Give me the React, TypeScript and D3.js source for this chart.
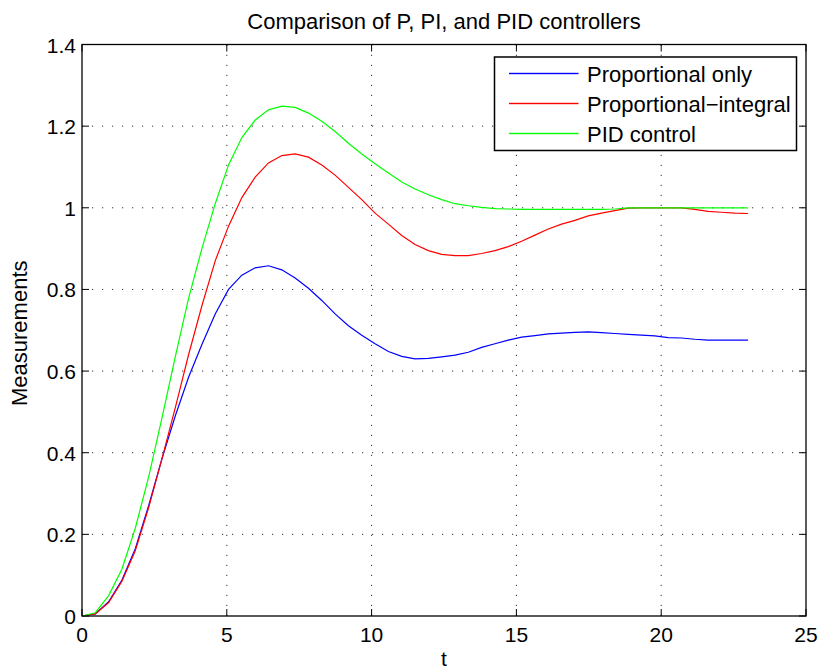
import React from "react";
import * as d3 from "d3";

const tValues = [0, 0.46, 0.92, 1.38, 1.84, 2.3, 2.76, 3.22, 3.68, 4.14, 4.6, 5.06, 5.52, 5.98, 6.44, 6.9, 7.36, 7.82, 8.28, 8.74, 9.2, 9.66, 10.12, 10.58, 11.04, 11.5, 11.96, 12.42, 12.88, 13.34, 13.8, 14.26, 14.72, 15.18, 15.64, 16.1, 16.56, 17.02, 17.48, 17.94, 18.4, 18.86, 19.32, 19.78, 20.24, 20.7, 21.16, 21.62, 22.08, 22.54, 23];

const proportionalOnly = [0, 0.005, 0.035, 0.088, 0.165, 0.27, 0.385, 0.49, 0.585, 0.665, 0.74, 0.8, 0.835, 0.853, 0.858, 0.848, 0.828, 0.803, 0.773, 0.74, 0.711, 0.688, 0.667, 0.648, 0.636, 0.63, 0.631, 0.635, 0.639, 0.646, 0.658, 0.667, 0.676, 0.683, 0.687, 0.691, 0.693, 0.695, 0.696, 0.694, 0.692, 0.69, 0.688, 0.686, 0.682, 0.681, 0.678, 0.676, 0.676, 0.676, 0.676];

const proportionalIntegral = [0, 0.005, 0.033, 0.085, 0.16, 0.265, 0.385, 0.51, 0.64, 0.76, 0.87, 0.955, 1.025, 1.075, 1.11, 1.128, 1.132, 1.124, 1.105, 1.08, 1.05, 1.02, 0.987, 0.96, 0.932, 0.91, 0.895, 0.886, 0.883, 0.883, 0.888, 0.895, 0.905, 0.918, 0.933, 0.948, 0.96, 0.969, 0.98, 0.987, 0.993, 0.999, 1.0, 1.0, 1.0, 1.0, 0.996, 0.991, 0.989, 0.987, 0.986];

const pidControl = [0, 0.008, 0.05, 0.115, 0.215, 0.34, 0.485, 0.635, 0.778, 0.9, 1.01, 1.105, 1.172, 1.215, 1.24, 1.249, 1.246, 1.232, 1.212, 1.187, 1.158, 1.132, 1.108, 1.085, 1.063, 1.046, 1.032, 1.02, 1.01, 1.005, 1.001, 0.998, 0.997, 0.996, 0.996, 0.996, 0.996, 0.996, 0.996, 0.996, 0.997, 1.0, 1.0, 1.0, 1.0, 1.0, 1.0, 1.0, 1.0, 1.0, 1.0];

const seriesNames = ["Proportional only", "Proportional\u2212integral", "PID control"];
const seriesColors = ["#0000ff", "#ff0000", "#00ff00"];
const xTicks = [0, 5, 10, 15, 20, 25];
const yTicks = [0, 0.2, 0.4, 0.6, 0.8, 1, 1.2, 1.4];
const titleText = "Comparison of P, PI, and PID controllers";
const xLabel = "t";
const yLabel = "Measurements";

export default function App() {
  const W = 820, H = 670;
  const left = 82, right = 806, top = 44.5, bottom = 616;
  const x = d3.scaleLinear().domain([0, 25]).range([left, right]);
  const y = d3.scaleLinear().domain([0, 1.4]).range([bottom, top]);
  const all = [proportionalOnly, proportionalIntegral, pidControl];
  const line = d3.line<number>().x((_, i) => x(tValues[i])).y((d) => y(d));
  const font = "'Liberation Sans', Arial, Helvetica, sans-serif";
  const tickLen = 7;

  return (
    <svg width={W} height={H} style={{ position: "absolute", left: 0, top: 0, background: "#fff" }} fontFamily={font}>
      <rect x={0} y={0} width={W} height={H} fill="#fff" />
      {xTicks.filter((v) => v > 0 && v < 25).map((v) => (
        <line key={"gx" + v} x1={x(v)} x2={x(v)} y1={bottom} y2={top} stroke="#333" strokeWidth={1} strokeDasharray="1.2,8.8" />
      ))}
      {yTicks.filter((v) => v > 0 && v < 1.4).map((v) => (
        <line key={"gy" + v} x1={left} x2={right} y1={y(v)} y2={y(v)} stroke="#333" strokeWidth={1} strokeDasharray="1.2,8.8" />
      ))}
      {xTicks.map((v) => (
        <g key={"tx" + v}>
          <line x1={x(v)} x2={x(v)} y1={bottom} y2={bottom - tickLen} stroke="#000" strokeWidth={1} />
          <line x1={x(v)} x2={x(v)} y1={top} y2={top + tickLen} stroke="#000" strokeWidth={1} />
          <text x={x(v)} y={bottom + 26} textAnchor="middle" fontSize={21}>{v}</text>
        </g>
      ))}
      {yTicks.map((v) => (
        <g key={"ty" + v}>
          <line x1={left} x2={left + tickLen} y1={y(v)} y2={y(v)} stroke="#000" strokeWidth={1} />
          <line x1={right} x2={right - tickLen} y1={y(v)} y2={y(v)} stroke="#000" strokeWidth={1} />
          <text x={left - 6} y={y(v) + 8} textAnchor="end" fontSize={21}>{v}</text>
        </g>
      ))}
      {all.map((s, i) => (
        <path key={"s" + i} d={line(s) || ""} fill="none" stroke={seriesColors[i]} strokeWidth={1.2} />
      ))}
      <rect x={left} y={top} width={right - left} height={bottom - top} fill="none" stroke="#000" strokeWidth={1.3} />
      <rect x={494.5} y={57} width={302} height={93.5} fill="#fff" stroke="#000" strokeWidth={1.5} />
      {seriesNames.map((n, i) => (
        <g key={"l" + i}>
          <rect x={509} y={72.8 + i * 30} width={69.5} height={1.4} fill={seriesColors[i]} />
          <text x={587} y={81.5 + i * 30} fontSize={22}>{n}</text>
        </g>
      ))}
      <text x={(left + right) / 2} y={29} textAnchor="middle" fontSize={22}>{titleText}</text>
      <text x={(left + right) / 2} y={666} textAnchor="middle" fontSize={21}>{xLabel}</text>
      <text transform={`translate(27,${(top + bottom) / 2 + 3}) rotate(-90)`} textAnchor="middle" fontSize={22}>{yLabel}</text>
    </svg>
  );
}
